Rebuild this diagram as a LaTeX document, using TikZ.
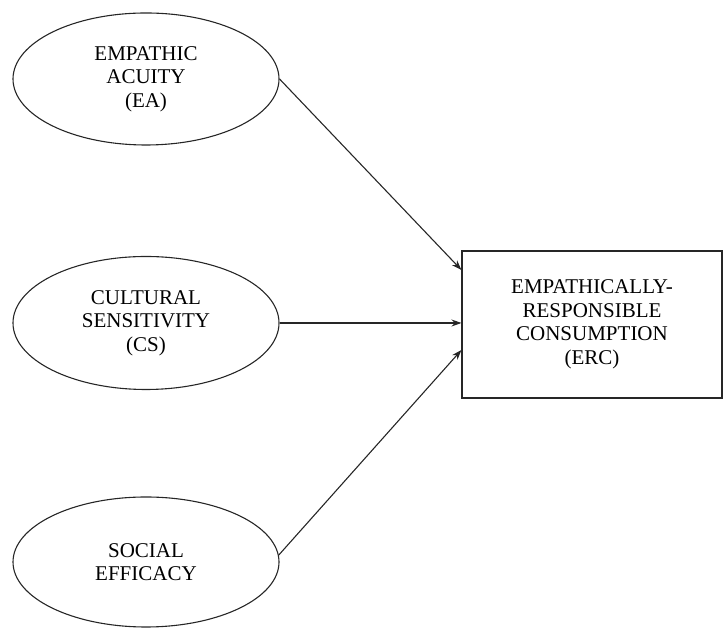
\documentclass[tikz,border=0pt]{standalone}
\usepackage{fontspec}
\setmainfont{Liberation Serif}
\usetikzlibrary{shapes.geometric,arrows.meta}
\begin{document}
\begin{tikzpicture}[x=1pt,y=1pt,
  construct/.style={draw=black!85, line width=1.1pt, ellipse, inner sep=0pt,
    minimum width=266pt, align=center, font=\fontsize{21}{23.5}\selectfont},
  outcome/.style={draw=black!85, line width=1.1pt, rectangle, inner sep=0pt,
    minimum width=260pt, minimum height=147pt, align=center, font=\fontsize{21}{23.5}\selectfont},
  path/.style={draw=black!85, line width=1.1pt, -{Stealth[length=10pt,width=7pt]}}]
\useasboundingbox (0,0) rectangle (724,631);
\node[construct, minimum height=132pt] (ea) at (146,552) {EMPATHIC\\ACUITY\\(EA)};
\node[construct, minimum height=133pt] (cs) at (146,308) {CULTURAL\\SENSITIVITY\\(CS)};
\node[construct, minimum height=130pt] (se) at (146,69) {SOCIAL\\EFFICACY};
\node[outcome] (erc) at (592,306.5) {EMPATHICALLY-\\RESPONSIBLE\\CONSUMPTION\\(ERC)};
\coordinate (t1) at ([yshift=54.5pt]erc.west);
\coordinate (t3) at ([yshift=-25.5pt]erc.west);
\draw[path] (ea.east) -- (t1);
\draw[path] (cs.east) -- (cs.east -| erc.west);
\draw[path] (se.3.4) -- (t3);
\end{tikzpicture}
\end{document}
